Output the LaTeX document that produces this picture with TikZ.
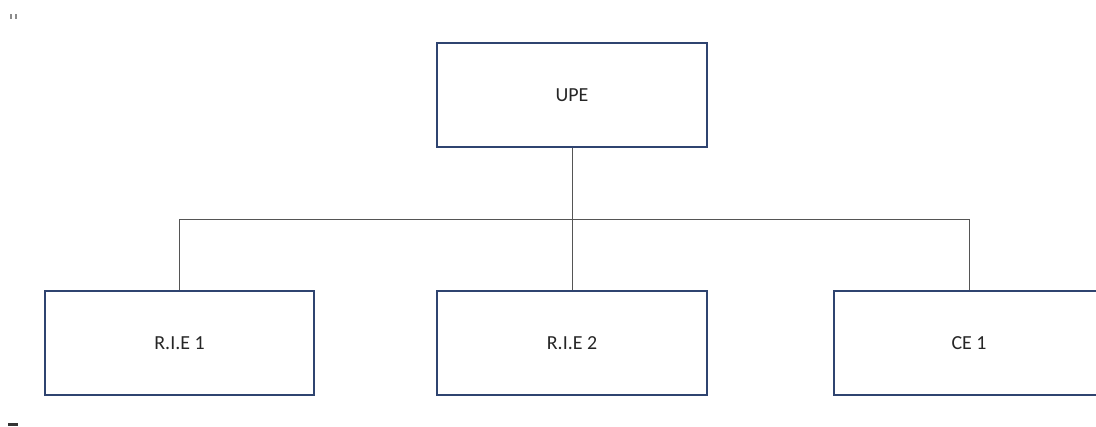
\documentclass[tikz,border=0pt]{standalone}
\usepackage{fontspec}
\setmainfont{Carlito}
\definecolor{boxline}{HTML}{2F4470}
\definecolor{wire}{HTML}{555555}
\begin{document}
\begin{tikzpicture}[x=1bp,y=-1bp,
  unit/.style={draw=boxline, line width=1.6bp, fill=white, inner sep=0pt,
    minimum width=270bp, minimum height=104bp, text=black!85,
    font=\fontsize{20}{24}\selectfont},
  wireline/.style={draw=wire, line width=1bp}]
  \useasboundingbox (0,0) rectangle (1096,426);
  \clip (0,0) rectangle (1096,426);
  % top unit
  \node[unit, minimum width=270bp] (upe) at (572,95) {UPE};
  % lower units
  \node[unit, minimum width=269bp] (rie1) at (179.5,343) {R.I.E 1};
  \node[unit] (rie2) at (572,343) {R.I.E 2};
  \node[unit] (ce1) at (969,343) {CE 1};
  % bus line
  \coordinate (bus) at (572,219);
  \draw[wireline] (upe.south) -- (upe.south |- bus);
  \draw[wireline] (rie1.north |- bus) -- (ce1.north |- bus);
  \draw[wireline] (rie1.north |- bus) -- (rie1.north);
  \draw[wireline] (rie2.north |- bus) -- (rie2.north);
  \draw[wireline] (ce1.north |- bus) -- (ce1.north);
  % small marks at the page corners
  \fill[black!45] (10,14) rectangle (12,19);
  \fill[black!45] (15,14) rectangle (17,19);
  \fill[black!80] (8,423) rectangle (18,426);
\end{tikzpicture}
\end{document}
